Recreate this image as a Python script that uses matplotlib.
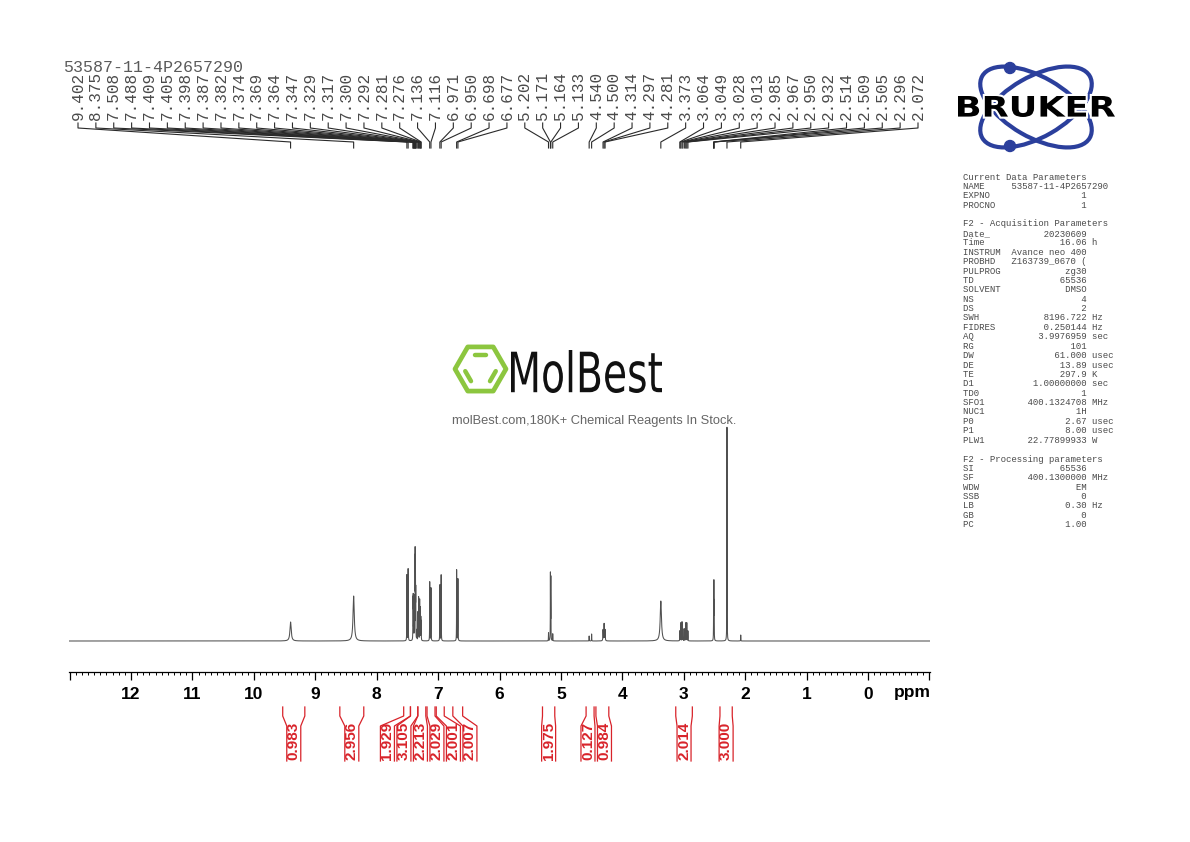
import numpy as np
import matplotlib
matplotlib.use('Agg')
import matplotlib.pyplot as plt
from matplotlib.transforms import Affine2D
from matplotlib.textpath import TextPath
from matplotlib.font_manager import FontProperties
from matplotlib.patches import PathPatch, Ellipse, Circle, Polygon
from matplotlib.lines import Line2D
from matplotlib.ticker import MultipleLocator

W, H = 1190, 842

# peak list (ppm, height in plot units, half width)
peak_ppm = [9.402, 8.375, 7.508, 7.488, 7.409, 7.405, 7.398, 7.387, 7.382, 7.374,
            7.369, 7.364, 7.347, 7.329, 7.317, 7.300, 7.292, 7.281, 7.276, 7.136,
            7.116, 6.971, 6.950, 6.698, 6.677, 5.202, 5.171, 5.164, 5.133, 4.540,
            4.500, 4.314, 4.297, 4.281, 3.373, 3.064, 3.049, 3.028, 3.013, 2.985,
            2.967, 2.950, 2.932, 2.514, 2.509, 2.505, 2.296, 2.072]
peak_height = [19, 45, 66, 72, 38, 40, 28, 33, 38, 84,
               74, 46, 10, 28, 43, 40, 32, 22, 18, 59,
               53, 56, 66, 71, 62, 8, 66, 62, 7, 5,
               7, 11, 17, 11, 40, 10, 18, 19, 12, 12,
               18, 18, 10, 30, 54, 33, 214, 6]
peak_width = [0.012, 0.012] + [0.0016] * 29 + [0.003, 0.003, 0.003, 0.012] + [0.0016] * 13

integral_ranges = [(9.53, 9.17), (8.60, 8.21), (7.56, 7.45), (7.45, 7.33), (7.33, 7.20),
                   (7.18, 7.05), (7.03, 6.90), (6.76, 6.60), (5.30, 5.10), (4.59, 4.46),
                   (4.43, 4.22), (3.13, 2.86), (2.41, 2.21)]
integral_values = ['0.983', '2.956', '1.929', '3.105', '2.213', '2.029', '2.001', '2.007',
                   '1.975', '0.127', '0.984', '2.014', '3.000']

# acquisition / processing parameters (rows with an empty value are headers or blanks)
param_names = ['Current Data Parameters', 'NAME', 'EXPNO', 'PROCNO', '',
               'F2 - Acquisition Parameters', 'Date_', 'Time', 'INSTRUM', 'PROBHD',
               'PULPROG', 'TD', 'SOLVENT', 'NS', 'DS', 'SWH', 'FIDRES', 'AQ', 'RG', 'DW',
               'DE', 'TE', 'D1', 'TD0', 'SFO1', 'NUC1', 'P0', 'P1', 'PLW1', '',
               'F2 - Processing parameters', 'SI', 'SF', 'WDW', 'SSB', 'LB', 'GB', 'PC']
param_values = ['', '53587-11-4P2657290', '1', '1', '',
                '', '20230609', '16.06', 'Avance neo 400', 'Z163739_0670 (',
                'zg30', '65536', 'DMSO', '4', '2', '8196.722', '0.250144', '3.9976959', '101',
                '61.000', '13.89', '297.9', '1.00000000', '1', '400.1324708', '1H', '2.67',
                '8.00', '22.77899933', '',
                '', '65536', '400.1300000', 'EM', '0', '0.30', '0', '1.00']
param_units = ['', '', '', '', '',
               '', '', 'h', '', '', '', '', '', '', '', 'Hz', 'Hz', 'sec', '', 'usec',
               'usec', 'K', 'sec', '', 'MHz', '', 'usec', 'usec', 'W', '',
               '', '', 'MHz', '', '', 'Hz', '', '']

fig = plt.figure(figsize=(W / 100, H / 100), dpi=100)
px = Affine2D().scale(1.0 / W, -1.0 / H).translate(0, 1) + fig.transFigure

# spectrum
ax = fig.add_axes([69 / W, (H - 672) / H, 861 / W, (672 - 150) / H])
ax.patch.set_visible(False)
x = np.linspace(13.01, -1.01, 120000)
y = np.zeros_like(x)
for p, h, w in zip(peak_ppm, peak_height, peak_width):
    y += h / (1 + ((x - p) / w) ** 2)
ax.plot(x, y, color='#505050', lw=0.75)
ax.set_xlim(13.01, -1.01)
ax.set_ylim(-31, 491)
for s in ['top', 'left', 'right']:
    ax.spines[s].set_visible(False)
ax.spines['bottom'].set_linewidth(0.9)
ax.set_yticks([])
ticks = np.arange(-1, 14)
ax.set_xticks(ticks, ['' if t in (-1, 13) else str(t) for t in ticks],
              fontweight='bold', fontsize=12.5, family='Liberation Sans')
ax.xaxis.set_minor_locator(MultipleLocator(0.1))
ax.tick_params(axis='x', which='major', direction='out', length=5.5, width=0.9, pad=5)
ax.tick_params(axis='x', which='minor', direction='out', length=2.5, width=0.7)
fig.text(912, 693, 'ppm', transform=px, ha='center', va='center', fontsize=12.5,
         fontweight='bold', family='Liberation Sans')


def ppm_to_px(vals):
    pts = np.column_stack([vals, np.zeros(len(vals))])
    return ax.transData.transform(pts)[:, 0]


def line(xs, ys, color, lw):
    fig.add_artist(Line2D(xs, ys, transform=px, color=color, lw=lw))


# peak labels at the top
lab_x = np.linspace(78, 918, len(peak_ppm))
pk_x = ppm_to_px(peak_ppm)
for lx, kx, p in zip(lab_x, pk_x, peak_ppm):
    fig.text(lx, 120, f'{p:.3f}', transform=px, rotation=90, ha='center', va='bottom',
             fontsize=11.5, family='Liberation Mono', color='#4a4a4a')
    line([lx, lx, kx, kx], [123, 128, 142, 148], '#2a2a2a', 0.8)
fig.text(63, 68, '53587-11-4P2657290', transform=px, ha='left', va='center',
         fontsize=12, family='Liberation Mono', color='#5a5a5a')


# integrals
def spread(centers, gap):
    groups = [[i] for i in range(len(centers))]

    def place(g):
        m = np.mean([centers[k] for k in g])
        return [m + (i - (len(g) - 1) / 2) * gap for i in range(len(g))]

    merged = True
    while merged:
        merged = False
        for j in range(len(groups) - 1):
            a, b = place(groups[j]), place(groups[j + 1])
            if b[0] - a[-1] < gap:
                groups[j] = groups[j] + groups[j + 1]
                del groups[j + 1]
                merged = True
                break
    pos = []
    for g in groups:
        pos += place(g)
    return pos


red = '#d8232a'
edges = [ppm_to_px(list(r)) for r in integral_ranges]
centers = [(e[0] + e[1]) / 2 for e in edges]
lab_pos = spread(centers, 16.5)
for e, c, v in zip(edges, lab_pos, integral_values):
    line([e[0], e[0], c - 7, c - 7], [707, 716, 726, 761], red, 0.9)
    line([e[1], e[1], c + 7, c + 7], [707, 716, 726, 761], red, 0.9)
    fig.text(c, 741, v, transform=px, rotation=90, ha='center', va='center',
             fontsize=11, fontweight='bold', family='Liberation Sans', color=red)

# parameter block
for i, (n, v, u) in enumerate(zip(param_names, param_values, param_units)):
    if v == '':
        txt = n
    else:
        txt = n.ljust(9) + v.rjust(14) + (' ' + u if u else '')
    if txt:
        fig.text(963, 177 + i * 9.4, txt, transform=px, va='center', fontsize=6.5,
                 family='Liberation Mono', color='#4a4a4a')


def text_patch(s, box, family, weight, color, edge=None, elw=0):
    tp = TextPath((0, 0), s, size=100, prop=FontProperties(family=family, weight=weight))
    ext = tp.get_extents()
    x0, y0, x1, y1 = box
    tr = (Affine2D().translate(-ext.x0, -ext.y0)
          .scale((x1 - x0) / ext.width, -(y1 - y0) / ext.height).translate(x0, y1))
    path = tr.transform_path(tp)
    if edge:
        fig.add_artist(PathPatch(path, facecolor=edge, edgecolor=edge, lw=elw, transform=px))
    fig.add_artist(PathPatch(path, facecolor=color, edgecolor='none', transform=px))


# Bruker logo
blue = '#2b3f9c'
for ang in (30, -30):
    fig.add_artist(Ellipse((1036, 107), 124, 60, angle=ang, fill=False, edgecolor=blue,
                           lw=3, transform=px))
fig.add_artist(Circle((1010, 68), 5.5, color=blue, transform=px))
fig.add_artist(Circle((1010, 146), 5.5, color=blue, transform=px))
text_patch('BRUKER', (958, 96, 1115, 117), 'DejaVu Sans', 'bold', 'black', 'white', 3)

# MolBest watermark
cx, cy, r = 480.5, 369, 25.5
ang = np.radians(np.arange(6) * 60)
hexv = np.column_stack([cx + r * np.cos(ang), cy - r * np.sin(ang)])
green = '#8cc63f'
fig.add_artist(Polygon(hexv, closed=True, fill=False, edgecolor=green, lw=3.4,
                       joinstyle='round', transform=px))
ri = 16.5
inner = np.column_stack([cx + ri * np.cos(ang), cy - ri * np.sin(ang)])
for a, b in [(1, 2), (3, 4), (5, 0)]:
    p0, p1 = inner[a], inner[b]
    q0 = p0 + 0.15 * (p1 - p0)
    q1 = p1 - 0.15 * (p1 - p0)
    fig.add_artist(Line2D([q0[0], q1[0]], [q0[1], q1[1]], color=green, lw=3.2,
                          solid_capstyle='round', transform=px))
text_patch('MolBest', (511, 350, 662, 393), 'DejaVu Sans', 'normal', '#111111')
fig.text(594, 421, 'molBest.com,180K+ Chemical Reagents In Stock.', transform=px,
         ha='center', va='center', fontsize=9.3, family='Liberation Sans', color='#666666')

fig.savefig('out.png', dpi=100)
